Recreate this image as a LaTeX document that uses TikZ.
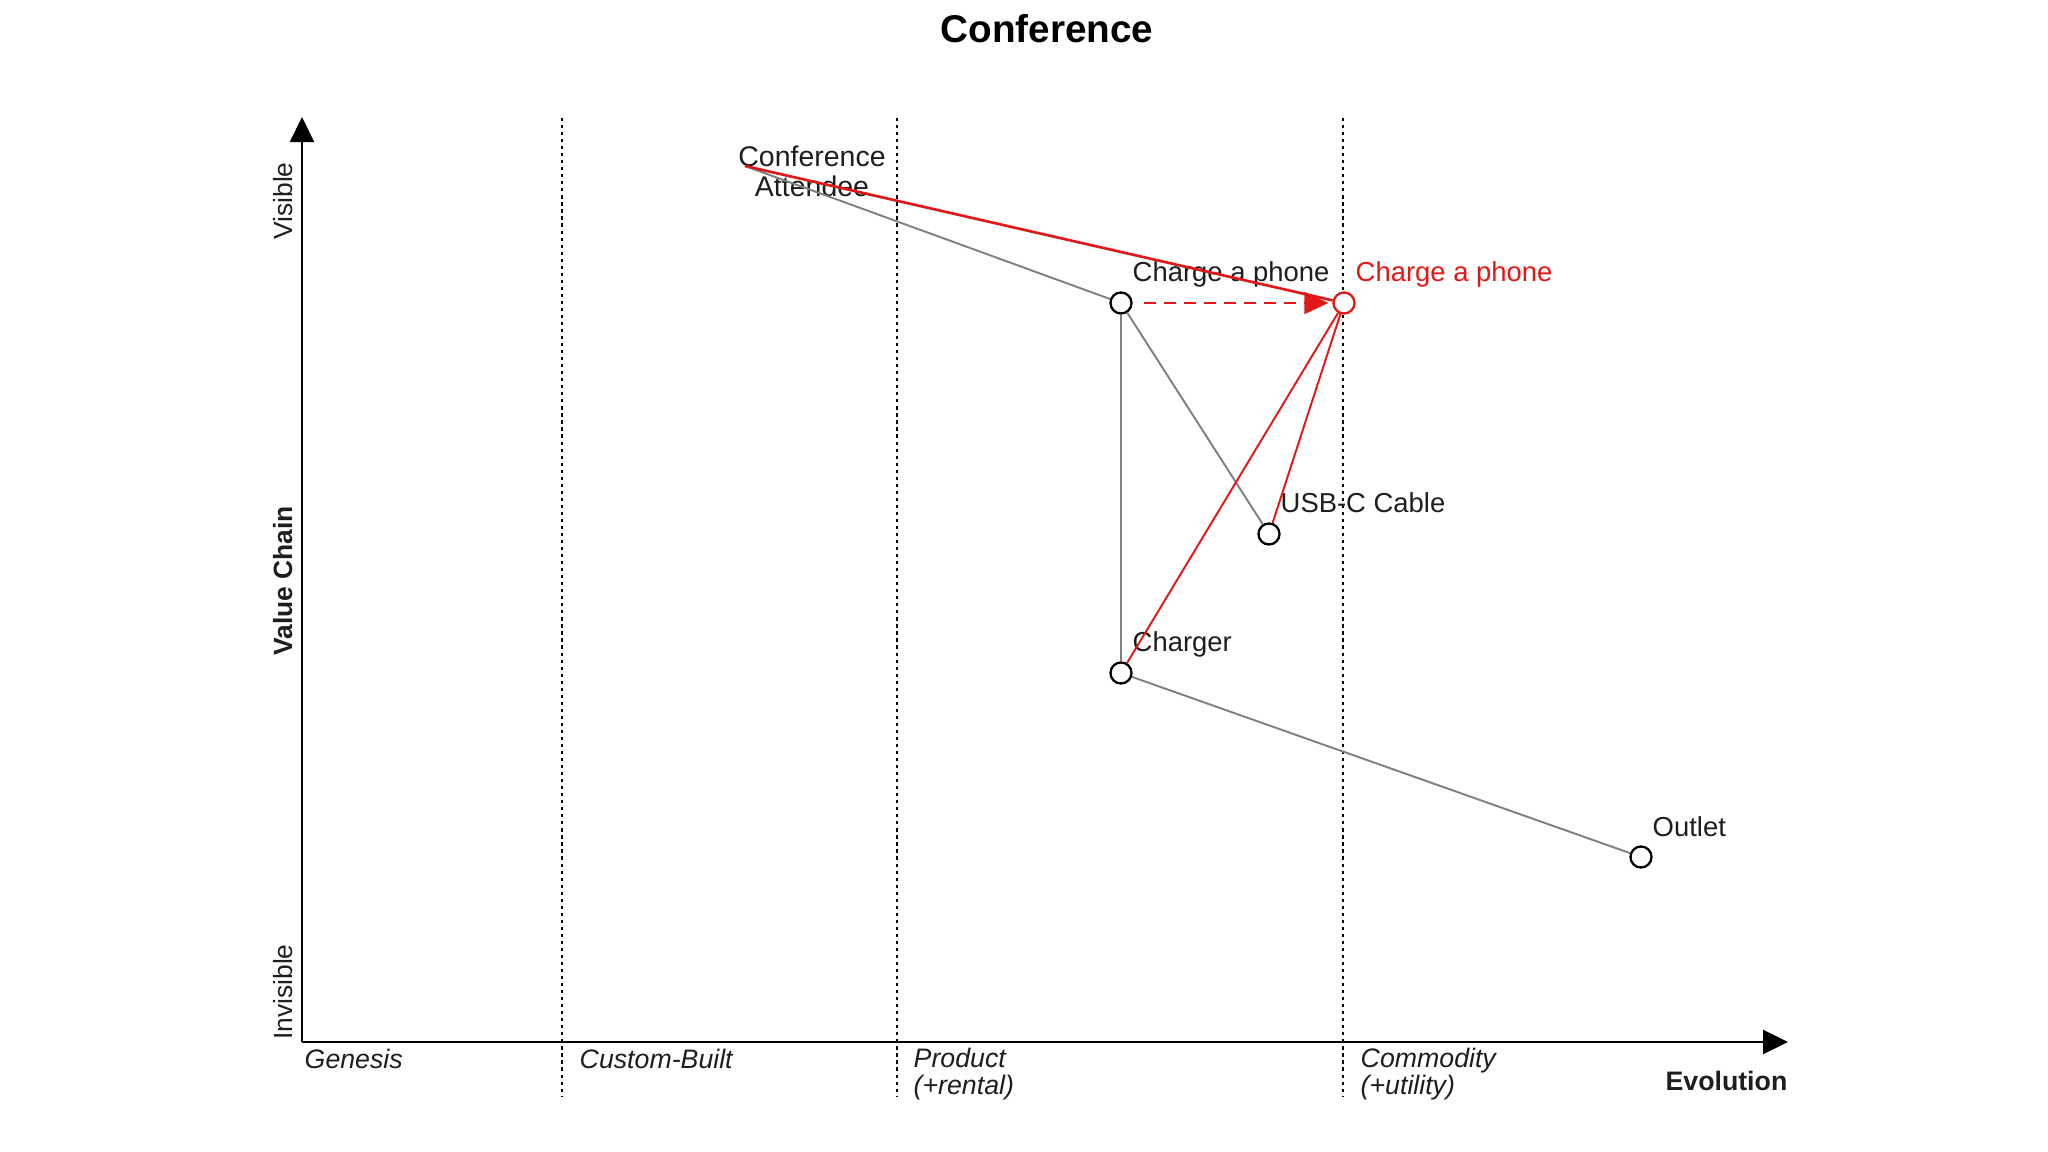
\documentclass[tikz,border=0pt]{standalone}
\usepackage{fontspec}
\setmainfont{Liberation Sans}
\usetikzlibrary{arrows.meta}

\definecolor{wmred}{RGB}{226,24,24}
\definecolor{wmgray}{RGB}{128,128,128}
\definecolor{wmtext}{RGB}{30,30,30}

\tikzset{
  comp/.style={circle, draw=black, fill=white, line width=0.65pt,
    inner sep=0pt, minimum size=0.21cm},
  compnew/.style={comp, draw=wmred},
  complabel/.style={anchor=base west, inner sep=0pt, text=wmtext,
    font=\fontsize{7.8}{8.5}\selectfont},
  link/.style={wmgray, line width=0.55pt},
  redlink/.style={wmred, line width=0.55pt},
  stage/.style={dash pattern=on 0.9pt off 1.1pt, line width=0.5pt},
  stagelabel/.style={anchor=base west, inner sep=0pt, align=left,
    text=wmtext, font=\fontsize{7.6}{7.4}\selectfont\itshape},
  axis/.style={line width=0.6pt, -{Triangle[length=0.25cm, width=0.24cm]}},
  axislabel/.style={inner sep=0pt, text=wmtext, font=\fontsize{7.5}{9}\selectfont},
}

\begin{document}
\begin{tikzpicture}[x=0.01cm, y=-0.01cm]
  \useasboundingbox (0,0) rectangle (2048,1152);

  % title
  \node[anchor=base, inner sep=0pt, font=\fontsize{11}{13}\selectfont\bfseries]
    (title) at (1047,43) {Conference};

  % axes
  \coordinate (origin) at (302,1042);
  \coordinate (ytip) at (302,117);
  \coordinate (xtip) at (1788,1042);
  \draw[axis] (origin) -- (ytip);
  \draw[axis] (origin) -- (xtip);

  \node[axislabel, rotate=90, anchor=base] (visible) at (292,201) {Visible};
  \node[axislabel, rotate=90, anchor=base] (invisible) at (292,992) {Invisible};
  \node[axislabel, rotate=90, anchor=base, font=\fontsize{7.5}{9}\selectfont\bfseries]
    (valuechain) at (292,581) {Value Chain};
  \node[axislabel, anchor=base east, font=\fontsize{7.6}{9}\selectfont\bfseries]
    (evolution) at (1788,1090) {Evolution};

  % evolution stages
  \foreach \x in {562,897,1343}
    \draw[stage] (\x,118) -- (\x,1097);
  \node[stagelabel] (genesis) at (304,1068) {Genesis};
  \node[stagelabel] (custom) at (579,1068) {Custom-Built};
  \node[stagelabel] (product) at (913,1094) {Product\\(+rental)};
  \node[stagelabel] (commodity) at (1360,1094) {Commodity\\(+utility)};

  % components
  \coordinate (attendee) at (745,166);
  \node[anchor=base, inner sep=0pt, align=center, text=wmtext,
    font=\fontsize{8.1}{8.8}\selectfont] (attendee-txt) at (812,197)
    {Conference\\Attendee};
  \node[comp] (phone) at (1121,303) {};
  \node[compnew] (phonenew) at (1344,303) {};
  \node[comp] (cable) at (1269,534) {};
  \node[comp] (charger) at (1121,673) {};
  \node[comp] (outlet) at (1641,857) {};

  \node[complabel] (phone-txt) at (1132,282) {Charge a phone};
  \node[complabel, text=wmred] (phonenew-txt) at (1355,282) {Charge a phone};
  \node[complabel] (cable-txt) at (1280,513) {USB-C Cable};
  \node[complabel] (charger-txt) at (1132,652) {Charger};
  \node[complabel] (outlet-txt) at (1652,836) {Outlet};

  % links
  \draw[link] (attendee) -- (phone);
  \draw[link] (phone) -- (cable);
  \draw[link] (phone) -- (charger);
  \draw[link] (charger) -- (outlet);

  \draw[redlink, line width=0.75pt] (attendee) -- (phonenew);
  \draw[redlink] (phonenew) -- (cable);
  \draw[redlink] (phonenew) -- (charger);

  % evolution move
  \draw[wmred, line width=0.55pt, dash pattern=on 3.4pt off 2.3pt,
    shorten <=0.11cm, shorten >=0.04cm,
    -{Triangle[length=0.24cm, width=0.22cm]}] (phone) -- (phonenew);
\end{tikzpicture}
\end{document}
